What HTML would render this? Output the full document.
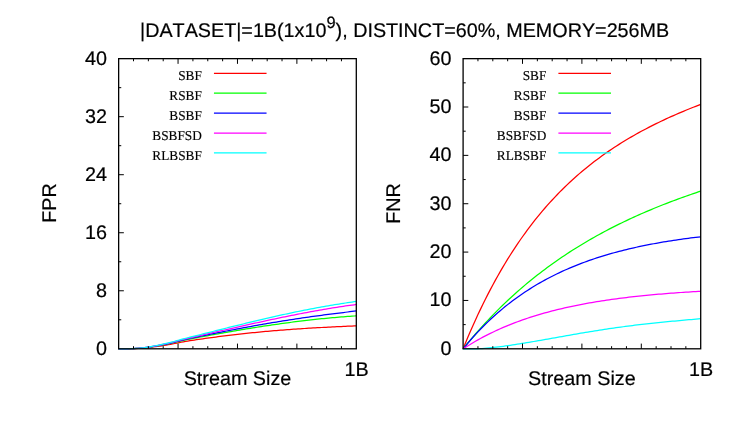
<!DOCTYPE html>
<html><head><meta charset="utf-8"><title>chart</title>
<style>
html,body{margin:0;padding:0;background:#fff;}
body{width:747px;height:432px;overflow:hidden;}
svg{display:block;will-change:transform;}
.s{text-rendering:geometricPrecision;font-kerning:none;font-family:"Liberation Sans",sans-serif;font-size:19.75px;fill:#000;stroke:#000;stroke-width:.2px;}
.t{text-rendering:geometricPrecision;font-kerning:none;font-family:"Liberation Serif",serif;font-size:13.5px;fill:#000;stroke:#000;stroke-width:.15px;}
</style></head><body>
<svg width="747" height="432" viewBox="0 0 747 432">
<rect width="747" height="432" fill="#fff"/>
<text class="s" x="140.0" y="37.0">|DATASET|=1B(1x10<tspan dy="-8.7" font-size="16.4">9</tspan><tspan dy="8.7">), DISTINCT=60%, MEMORY=256MB</tspan></text>
<path d="M118.65,348.8 L120.81,348.8 L122.97,348.8 L125.13,348.8 L127.29,348.79 L129.45,348.76 L131.61,348.7 L133.77,348.64 L135.93,348.55 L138.09,348.44 L140.25,348.31 L142.42,348.16 L144.58,347.98 L146.74,347.77 L148.9,347.54 L151.06,347.28 L153.22,347 L155.38,346.72 L157.54,346.42 L159.7,346.12 L161.86,345.8 L164.02,345.46 L166.18,345.11 L168.34,344.74 L170.5,344.35 L172.66,343.94 L174.82,343.5 L176.98,343.04 L179.14,342.59 L181.3,342.15 L183.46,341.76 L185.62,341.4 L187.78,341.05 L189.94,340.72 L192.11,340.39 L194.27,340.07 L196.43,339.74 L198.59,339.42 L200.75,339.1 L202.91,338.78 L205.07,338.47 L207.23,338.17 L209.39,337.87 L211.55,337.58 L213.71,337.29 L215.87,337.01 L218.03,336.73 L220.19,336.45 L222.35,336.18 L224.51,335.91 L226.67,335.64 L228.83,335.38 L230.99,335.12 L233.15,334.87 L235.31,334.61 L237.48,334.37 L239.64,334.12 L241.8,333.88 L243.96,333.64 L246.12,333.41 L248.28,333.18 L250.44,332.95 L252.6,332.73 L254.76,332.51 L256.92,332.3 L259.08,332.09 L261.24,331.88 L263.4,331.67 L265.56,331.48 L267.72,331.28 L269.88,331.09 L272.04,330.9 L274.2,330.71 L276.36,330.53 L278.52,330.36 L280.68,330.18 L282.84,330.01 L285,329.85 L287.17,329.68 L289.33,329.52 L291.49,329.37 L293.65,329.22 L295.81,329.07 L297.97,328.92 L300.13,328.78 L302.29,328.64 L304.45,328.5 L306.61,328.37 L308.77,328.24 L310.93,328.11 L313.09,327.98 L315.25,327.86 L317.41,327.74 L319.57,327.62 L321.73,327.5 L323.89,327.38 L326.05,327.27 L328.21,327.16 L330.37,327.05 L332.54,326.94 L334.7,326.84 L336.86,326.73 L339.02,326.63 L341.18,326.52 L343.34,326.42 L345.5,326.31 L347.66,326.21 L349.82,326.11 L351.98,326.01 L354.14,325.9 L356.3,325.8" fill="none" stroke="#ff0000" stroke-width="1.25" stroke-linejoin="round"/>
<path d="M118.65,348.8 L120.81,348.8 L122.97,348.8 L125.13,348.8 L127.29,348.79 L129.45,348.74 L131.61,348.68 L133.77,348.6 L135.93,348.49 L138.09,348.35 L140.25,348.19 L142.42,348.01 L144.58,347.79 L146.74,347.53 L148.9,347.25 L151.06,346.94 L153.22,346.6 L155.38,346.25 L157.54,345.9 L159.7,345.53 L161.86,345.14 L164.02,344.73 L166.18,344.31 L168.34,343.87 L170.5,343.41 L172.66,342.93 L174.82,342.41 L176.98,341.87 L179.14,341.34 L181.3,340.82 L183.46,340.35 L185.62,339.9 L187.78,339.47 L189.94,339.06 L192.11,338.65 L194.27,338.23 L196.43,337.82 L198.59,337.4 L200.75,336.99 L202.91,336.59 L205.07,336.18 L207.23,335.78 L209.39,335.38 L211.55,334.99 L213.71,334.6 L215.87,334.21 L218.03,333.82 L220.19,333.44 L222.35,333.06 L224.51,332.68 L226.67,332.3 L228.83,331.92 L230.99,331.55 L233.15,331.18 L235.31,330.81 L237.48,330.44 L239.64,330.07 L241.8,329.71 L243.96,329.35 L246.12,328.99 L248.28,328.64 L250.44,328.29 L252.6,327.94 L254.76,327.59 L256.92,327.25 L259.08,326.91 L261.24,326.58 L263.4,326.24 L265.56,325.91 L267.72,325.59 L269.88,325.27 L272.04,324.95 L274.2,324.63 L276.36,324.32 L278.52,324.01 L280.68,323.71 L282.84,323.41 L285,323.11 L287.17,322.82 L289.33,322.54 L291.49,322.25 L293.65,321.97 L295.81,321.7 L297.97,321.43 L300.13,321.16 L302.29,320.9 L304.45,320.64 L306.61,320.39 L308.77,320.14 L310.93,319.9 L313.09,319.66 L315.25,319.42 L317.41,319.19 L319.57,318.96 L321.73,318.74 L323.89,318.53 L326.05,318.32 L328.21,318.11 L330.37,317.9 L332.54,317.71 L334.7,317.52 L336.86,317.33 L339.02,317.14 L341.18,316.96 L343.34,316.79 L345.5,316.62 L347.66,316.46 L349.82,316.3 L351.98,316.15 L354.14,316 L356.3,315.85" fill="none" stroke="#00ff00" stroke-width="1.25" stroke-linejoin="round"/>
<path d="M118.65,348.8 L120.81,348.8 L122.97,348.8 L125.13,348.8 L127.29,348.79 L129.45,348.74 L131.61,348.67 L133.77,348.59 L135.93,348.47 L138.09,348.32 L140.25,348.15 L142.42,347.96 L144.58,347.73 L146.74,347.45 L148.9,347.15 L151.06,346.81 L153.22,346.46 L155.38,346.09 L157.54,345.71 L159.7,345.31 L161.86,344.9 L164.02,344.47 L166.18,344.03 L168.34,343.56 L170.5,343.07 L172.66,342.56 L174.82,342.02 L176.98,341.45 L179.14,340.89 L181.3,340.35 L183.46,339.84 L185.62,339.36 L187.78,338.89 L189.94,338.44 L192.11,337.99 L194.27,337.54 L196.43,337.09 L198.59,336.64 L200.75,336.19 L202.91,335.74 L205.07,335.29 L207.23,334.85 L209.39,334.42 L211.55,333.98 L213.71,333.55 L215.87,333.12 L218.03,332.69 L220.19,332.27 L222.35,331.84 L224.51,331.42 L226.67,331 L228.83,330.58 L230.99,330.16 L233.15,329.75 L235.31,329.34 L237.48,328.93 L239.64,328.52 L241.8,328.12 L243.96,327.71 L246.12,327.31 L248.28,326.91 L250.44,326.52 L252.6,326.13 L254.76,325.74 L256.92,325.35 L259.08,324.97 L261.24,324.59 L263.4,324.21 L265.56,323.84 L267.72,323.47 L269.88,323.1 L272.04,322.73 L274.2,322.37 L276.36,322.01 L278.52,321.66 L280.68,321.31 L282.84,320.96 L285,320.61 L287.17,320.27 L289.33,319.93 L291.49,319.6 L293.65,319.27 L295.81,318.94 L297.97,318.62 L300.13,318.29 L302.29,317.98 L304.45,317.66 L306.61,317.35 L308.77,317.04 L310.93,316.74 L313.09,316.44 L315.25,316.14 L317.41,315.84 L319.57,315.55 L321.73,315.26 L323.89,314.97 L326.05,314.69 L328.21,314.41 L330.37,314.13 L332.54,313.86 L334.7,313.58 L336.86,313.31 L339.02,313.05 L341.18,312.78 L343.34,312.52 L345.5,312.25 L347.66,312 L349.82,311.74 L351.98,311.48 L354.14,311.23 L356.3,310.97" fill="none" stroke="#0000ff" stroke-width="1.25" stroke-linejoin="round"/>
<path d="M118.65,348.8 L120.81,348.8 L122.97,348.8 L125.13,348.8 L127.29,348.79 L129.45,348.74 L131.61,348.66 L133.77,348.57 L135.93,348.45 L138.09,348.29 L140.25,348.11 L142.42,347.91 L144.58,347.66 L146.74,347.37 L148.9,347.05 L151.06,346.7 L153.22,346.32 L155.38,345.93 L157.54,345.53 L159.7,345.11 L161.86,344.68 L164.02,344.23 L166.18,343.76 L168.34,343.27 L170.5,342.76 L172.66,342.22 L174.82,341.65 L176.98,341.07 L179.14,340.48 L181.3,339.9 L183.46,339.36 L185.62,338.85 L187.78,338.35 L189.94,337.86 L192.11,337.37 L194.27,336.88 L196.43,336.38 L198.59,335.89 L200.75,335.39 L202.91,334.9 L205.07,334.4 L207.23,333.91 L209.39,333.42 L211.55,332.93 L213.71,332.44 L215.87,331.95 L218.03,331.47 L220.19,330.98 L222.35,330.49 L224.51,330 L226.67,329.52 L228.83,329.03 L230.99,328.54 L233.15,328.05 L235.31,327.57 L237.48,327.08 L239.64,326.6 L241.8,326.11 L243.96,325.63 L246.12,325.15 L248.28,324.67 L250.44,324.19 L252.6,323.71 L254.76,323.23 L256.92,322.76 L259.08,322.28 L261.24,321.81 L263.4,321.34 L265.56,320.87 L267.72,320.41 L269.88,319.94 L272.04,319.48 L274.2,319.02 L276.36,318.57 L278.52,318.12 L280.68,317.67 L282.84,317.22 L285,316.77 L287.17,316.33 L289.33,315.9 L291.49,315.46 L293.65,315.03 L295.81,314.6 L297.97,314.18 L300.13,313.76 L302.29,313.35 L304.45,312.93 L306.61,312.53 L308.77,312.12 L310.93,311.72 L313.09,311.33 L315.25,310.94 L317.41,310.55 L319.57,310.17 L321.73,309.79 L323.89,309.42 L326.05,309.05 L328.21,308.69 L330.37,308.33 L332.54,307.98 L334.7,307.63 L336.86,307.29 L339.02,306.95 L341.18,306.62 L343.34,306.3 L345.5,305.98 L347.66,305.66 L349.82,305.36 L351.98,305.06 L354.14,304.76 L356.3,304.46" fill="none" stroke="#ff00ff" stroke-width="1.25" stroke-linejoin="round"/>
<path d="M118.65,348.8 L120.81,348.8 L122.97,348.8 L125.13,348.8 L127.29,348.79 L129.45,348.73 L131.61,348.65 L133.77,348.56 L135.93,348.43 L138.09,348.26 L140.25,348.07 L142.42,347.85 L144.58,347.59 L146.74,347.28 L148.9,346.94 L151.06,346.57 L153.22,346.17 L155.38,345.76 L157.54,345.34 L159.7,344.9 L161.86,344.44 L164.02,343.96 L166.18,343.47 L168.34,342.95 L170.5,342.41 L172.66,341.85 L174.82,341.25 L176.98,340.64 L179.14,340.02 L181.3,339.42 L183.46,338.84 L185.62,338.28 L187.78,337.74 L189.94,337.2 L192.11,336.66 L194.27,336.12 L196.43,335.58 L198.59,335.03 L200.75,334.49 L202.91,333.94 L205.07,333.4 L207.23,332.86 L209.39,332.32 L211.55,331.78 L213.71,331.24 L215.87,330.7 L218.03,330.16 L220.19,329.62 L222.35,329.09 L224.51,328.55 L226.67,328.01 L228.83,327.48 L230.99,326.94 L233.15,326.41 L235.31,325.88 L237.48,325.34 L239.64,324.81 L241.8,324.28 L243.96,323.76 L246.12,323.23 L248.28,322.71 L250.44,322.19 L252.6,321.67 L254.76,321.15 L256.92,320.64 L259.08,320.13 L261.24,319.62 L263.4,319.11 L265.56,318.61 L267.72,318.11 L269.88,317.61 L272.04,317.12 L274.2,316.63 L276.36,316.14 L278.52,315.66 L280.68,315.18 L282.84,314.71 L285,314.24 L287.17,313.77 L289.33,313.31 L291.49,312.86 L293.65,312.4 L295.81,311.95 L297.97,311.51 L300.13,311.07 L302.29,310.64 L304.45,310.21 L306.61,309.78 L308.77,309.36 L310.93,308.95 L313.09,308.54 L315.25,308.13 L317.41,307.73 L319.57,307.33 L321.73,306.94 L323.89,306.56 L326.05,306.18 L328.21,305.8 L330.37,305.43 L332.54,305.07 L334.7,304.71 L336.86,304.36 L339.02,304.01 L341.18,303.67 L343.34,303.33 L345.5,303 L347.66,302.67 L349.82,302.36 L351.98,302.04 L354.14,301.73 L356.3,301.41" fill="none" stroke="#00ffff" stroke-width="1.25" stroke-linejoin="round"/>
<path d="M133.5,58.65 v2.6 M133.5,348.8 v-2.6 M148.36,58.65 v2.6 M148.36,348.8 v-2.6 M163.21,58.65 v2.6 M163.21,348.8 v-2.6 M178.06,58.65 v5.2 M178.06,348.8 v-5.2 M192.92,58.65 v2.6 M192.92,348.8 v-2.6 M207.77,58.65 v2.6 M207.77,348.8 v-2.6 M222.62,58.65 v2.6 M222.62,348.8 v-2.6 M237.48,58.65 v5.2 M237.48,348.8 v-5.2 M252.33,58.65 v2.6 M252.33,348.8 v-2.6 M267.18,58.65 v2.6 M267.18,348.8 v-2.6 M282.03,58.65 v2.6 M282.03,348.8 v-2.6 M296.89,58.65 v5.2 M296.89,348.8 v-5.2 M311.74,58.65 v2.6 M311.74,348.8 v-2.6 M326.59,58.65 v2.6 M326.59,348.8 v-2.6 M341.45,58.65 v2.6 M341.45,348.8 v-2.6 M118.65,319.79 h2.6 M118.65,290.77 h5.2 M118.65,261.75 h2.6 M118.65,232.74 h5.2 M118.65,203.72 h2.6 M118.65,174.71 h5.2 M118.65,145.69 h2.6 M118.65,116.68 h5.2 M118.65,87.66 h2.6" fill="none" stroke="#000" stroke-width="1.0"/>
<rect x="118.65" y="58.65" width="237.65" height="290.15" fill="none" stroke="#000" stroke-width="1.3"/>
<text class="s" text-anchor="end" x="106.9" y="354.85">0</text>
<text class="s" text-anchor="end" x="106.9" y="296.82">8</text>
<text class="s" text-anchor="end" x="106.9" y="238.79">16</text>
<text class="s" text-anchor="end" x="106.9" y="180.76">24</text>
<text class="s" text-anchor="end" x="106.9" y="122.73">32</text>
<text class="s" text-anchor="end" x="106.9" y="64.7">40</text>
<text class="s" text-anchor="middle" transform="translate(55.9,203.1) rotate(-90)">FPR</text>
<text class="s" text-anchor="middle" x="237.48" y="385.4">Stream Size</text>
<text class="s" text-anchor="middle" x="356.7" y="375.8">1B</text>
<text class="t" text-anchor="end" transform="translate(201.85,80.15) scale(0.985,1)">SBF</text>
<path d="M213.95,73.3 h52.6" stroke="#ff0000" stroke-width="1.25" fill="none"/>
<text class="t" text-anchor="end" transform="translate(201.85,100.05) scale(0.985,1)">RSBF</text>
<path d="M213.95,93.2 h52.6" stroke="#00ff00" stroke-width="1.25" fill="none"/>
<text class="t" text-anchor="end" transform="translate(201.85,119.95) scale(0.985,1)">BSBF</text>
<path d="M213.95,113.1 h52.6" stroke="#0000ff" stroke-width="1.25" fill="none"/>
<text class="t" text-anchor="end" transform="translate(201.85,139.85) scale(0.985,1)">BSBFSD</text>
<path d="M213.95,133 h52.6" stroke="#ff00ff" stroke-width="1.25" fill="none"/>
<text class="t" text-anchor="end" transform="translate(201.85,159.75) scale(0.985,1)">RLBSBF</text>
<path d="M213.95,152.9 h52.6" stroke="#00ffff" stroke-width="1.25" fill="none"/>
<path d="M463.1,348.8 L465.58,342.75 L468.05,336.85 L470.53,331.08 L473,325.46 L475.48,319.96 L477.95,314.6 L480.43,309.36 L482.9,304.24 L485.38,299.25 L487.85,294.37 L490.33,289.6 L492.8,284.95 L495.28,280.4 L497.75,275.96 L500.23,271.61 L502.7,267.37 L505.18,263.23 L507.65,259.18 L510.12,255.23 L512.6,251.36 L515.08,247.58 L517.55,243.88 L520.02,240.27 L522.5,236.74 L524.98,233.29 L527.45,229.92 L529.93,226.61 L532.4,223.39 L534.88,220.23 L537.35,217.14 L539.83,214.12 L542.3,211.17 L544.78,208.28 L547.25,205.45 L549.73,202.68 L552.2,199.97 L554.68,197.32 L557.15,194.72 L559.62,192.18 L562.1,189.69 L564.58,187.25 L567.05,184.87 L569.53,182.53 L572,180.24 L574.48,178 L576.95,175.8 L579.43,173.65 L581.9,171.54 L584.38,169.47 L586.85,167.44 L589.33,165.46 L591.8,163.51 L594.28,161.6 L596.75,159.72 L599.23,157.89 L601.7,156.08 L604.18,154.31 L606.65,152.58 L609.12,150.87 L611.6,149.2 L614.08,147.56 L616.55,145.95 L619.03,144.37 L621.5,142.81 L623.98,141.29 L626.45,139.79 L628.93,138.31 L631.4,136.86 L633.88,135.44 L636.35,134.04 L638.83,132.67 L641.3,131.31 L643.78,129.98 L646.25,128.68 L648.73,127.39 L651.2,126.12 L653.68,124.88 L656.15,123.65 L658.62,122.44 L661.1,121.25 L663.58,120.08 L666.05,118.93 L668.53,117.79 L671,116.67 L673.48,115.57 L675.95,114.48 L678.43,113.41 L680.9,112.36 L683.38,111.32 L685.85,110.29 L688.33,109.27 L690.8,108.27 L693.28,107.29 L695.75,106.32 L698.23,105.35 L700.7,104.41" fill="none" stroke="#ff0000" stroke-width="1.25" stroke-linejoin="round"/>
<path d="M463.1,348.8 L465.58,345.74 L468.05,342.74 L470.53,339.78 L473,336.86 L475.48,333.99 L477.95,331.17 L480.43,328.39 L482.9,325.66 L485.38,322.97 L487.85,320.32 L490.33,317.71 L492.8,315.14 L495.28,312.61 L497.75,310.12 L500.23,307.67 L502.7,305.25 L505.18,302.88 L507.65,300.54 L510.12,298.23 L512.6,295.96 L515.08,293.73 L517.55,291.53 L520.02,289.36 L522.5,287.22 L524.98,285.12 L527.45,283.05 L529.93,281.01 L532.4,279 L534.88,277.02 L537.35,275.07 L539.83,273.14 L542.3,271.25 L544.78,269.38 L547.25,267.54 L549.73,265.73 L552.2,263.95 L554.68,262.19 L557.15,260.45 L559.62,258.74 L562.1,257.06 L564.58,255.4 L567.05,253.76 L569.53,252.14 L572,250.55 L574.48,248.98 L576.95,247.44 L579.43,245.91 L581.9,244.41 L584.38,242.93 L586.85,241.46 L589.33,240.02 L591.8,238.6 L594.28,237.19 L596.75,235.81 L599.23,234.44 L601.7,233.1 L604.18,231.77 L606.65,230.46 L609.12,229.16 L611.6,227.89 L614.08,226.63 L616.55,225.38 L619.03,224.16 L621.5,222.94 L623.98,221.75 L626.45,220.57 L628.93,219.4 L631.4,218.25 L633.88,217.12 L636.35,216 L638.83,214.89 L641.3,213.8 L643.78,212.72 L646.25,211.65 L648.73,210.6 L651.2,209.56 L653.68,208.53 L656.15,207.51 L658.62,206.51 L661.1,205.52 L663.58,204.54 L666.05,203.57 L668.53,202.62 L671,201.67 L673.48,200.74 L675.95,199.81 L678.43,198.9 L680.9,198 L683.38,197.1 L685.85,196.22 L688.33,195.35 L690.8,194.49 L693.28,193.63 L695.75,192.79 L698.23,191.95 L700.7,191.13" fill="none" stroke="#00ff00" stroke-width="1.25" stroke-linejoin="round"/>
<path d="M463.1,348.8 L465.58,345.8 L468.05,342.88 L470.53,340.02 L473,337.23 L475.48,334.52 L477.95,331.86 L480.43,329.27 L482.9,326.75 L485.38,324.28 L487.85,321.88 L490.33,319.53 L492.8,317.24 L495.28,315.01 L497.75,312.83 L500.23,310.7 L502.7,308.63 L505.18,306.6 L507.65,304.62 L510.12,302.69 L512.6,300.81 L515.08,298.98 L517.55,297.18 L520.02,295.44 L522.5,293.73 L524.98,292.07 L527.45,290.44 L529.93,288.86 L532.4,287.31 L534.88,285.8 L537.35,284.33 L539.83,282.89 L542.3,281.49 L544.78,280.12 L547.25,278.78 L549.73,277.48 L552.2,276.21 L554.68,274.97 L557.15,273.76 L559.62,272.58 L562.1,271.43 L564.58,270.3 L567.05,269.2 L569.53,268.13 L572,267.09 L574.48,266.07 L576.95,265.08 L579.43,264.1 L581.9,263.16 L584.38,262.23 L586.85,261.33 L589.33,260.45 L591.8,259.59 L594.28,258.75 L596.75,257.94 L599.23,257.14 L601.7,256.36 L604.18,255.6 L606.65,254.86 L609.12,254.14 L611.6,253.43 L614.08,252.74 L616.55,252.07 L619.03,251.42 L621.5,250.78 L623.98,250.15 L626.45,249.54 L628.93,248.95 L631.4,248.37 L633.88,247.8 L636.35,247.25 L638.83,246.71 L641.3,246.18 L643.78,245.67 L646.25,245.17 L648.73,244.68 L651.2,244.21 L653.68,243.74 L656.15,243.29 L658.62,242.84 L661.1,242.41 L663.58,241.99 L666.05,241.58 L668.53,241.18 L671,240.79 L673.48,240.4 L675.95,240.03 L678.43,239.67 L680.9,239.31 L683.38,238.96 L685.85,238.63 L688.33,238.3 L690.8,237.97 L693.28,237.66 L695.75,237.35 L698.23,237.05 L700.7,236.76" fill="none" stroke="#0000ff" stroke-width="1.25" stroke-linejoin="round"/>
<path d="M463.1,348.8 L465.58,347.21 L468.05,345.67 L470.53,344.16 L473,342.69 L475.48,341.26 L477.95,339.86 L480.43,338.5 L482.9,337.17 L485.38,335.88 L487.85,334.62 L490.33,333.39 L492.8,332.19 L495.28,331.02 L497.75,329.88 L500.23,328.77 L502.7,327.69 L505.18,326.64 L507.65,325.61 L510.12,324.61 L512.6,323.63 L515.08,322.68 L517.55,321.75 L520.02,320.84 L522.5,319.96 L524.98,319.1 L527.45,318.26 L529.93,317.45 L532.4,316.65 L534.88,315.87 L537.35,315.12 L539.83,314.38 L542.3,313.66 L544.78,312.96 L547.25,312.28 L549.73,311.61 L552.2,310.96 L554.68,310.33 L557.15,309.71 L559.62,309.11 L562.1,308.52 L564.58,307.95 L567.05,307.39 L569.53,306.85 L572,306.32 L574.48,305.8 L576.95,305.3 L579.43,304.81 L581.9,304.33 L584.38,303.87 L586.85,303.41 L589.33,302.97 L591.8,302.54 L594.28,302.12 L596.75,301.71 L599.23,301.31 L601.7,300.92 L604.18,300.54 L606.65,300.17 L609.12,299.81 L611.6,299.45 L614.08,299.11 L616.55,298.78 L619.03,298.45 L621.5,298.13 L623.98,297.82 L626.45,297.52 L628.93,297.23 L631.4,296.94 L633.88,296.66 L636.35,296.39 L638.83,296.12 L641.3,295.86 L643.78,295.61 L646.25,295.36 L648.73,295.12 L651.2,294.89 L653.68,294.66 L656.15,294.44 L658.62,294.22 L661.1,294.01 L663.58,293.8 L666.05,293.6 L668.53,293.41 L671,293.22 L673.48,293.03 L675.95,292.85 L678.43,292.67 L680.9,292.5 L683.38,292.33 L685.85,292.17 L688.33,292.01 L690.8,291.85 L693.28,291.7 L695.75,291.56 L698.23,291.41 L700.7,291.27" fill="none" stroke="#ff00ff" stroke-width="1.25" stroke-linejoin="round"/>
<path d="M463.1,348.8 L477.33,348.8 L479.68,348.68 L482.03,348.51 L484.39,348.32 L486.74,348.11 L489.09,347.89 L491.44,347.65 L493.79,347.4 L496.14,347.13 L498.49,346.85 L500.84,346.56 L503.2,346.26 L505.55,345.94 L507.9,345.61 L510.25,345.28 L512.6,344.93 L514.95,344.58 L517.3,344.22 L519.65,343.85 L522,343.47 L524.36,343.09 L526.71,342.7 L529.06,342.31 L531.41,341.91 L533.76,341.5 L536.11,341.1 L538.46,340.69 L540.82,340.27 L543.17,339.86 L545.52,339.44 L547.87,339.02 L550.22,338.61 L552.57,338.18 L554.92,337.76 L557.27,337.34 L559.62,336.92 L561.98,336.51 L564.33,336.09 L566.68,335.67 L569.03,335.26 L571.38,334.84 L573.73,334.43 L576.08,334.03 L578.44,333.62 L580.79,333.22 L583.14,332.82 L585.49,332.43 L587.84,332.04 L590.19,331.65 L592.54,331.27 L594.89,330.89 L597.25,330.52 L599.6,330.15 L601.95,329.79 L604.3,329.43 L606.65,329.07 L609,328.73 L611.35,328.38 L613.7,328.04 L616.06,327.71 L618.41,327.38 L620.76,327.06 L623.11,326.75 L625.46,326.43 L627.81,326.13 L630.16,325.83 L632.51,325.53 L634.87,325.24 L637.22,324.96 L639.57,324.68 L641.92,324.41 L644.27,324.14 L646.62,323.87 L648.97,323.61 L651.32,323.36 L653.68,323.11 L656.03,322.86 L658.38,322.62 L660.73,322.38 L663.08,322.14 L665.43,321.91 L667.78,321.68 L670.13,321.46 L672.49,321.24 L674.84,321.02 L677.19,320.8 L679.54,320.58 L681.89,320.37 L684.24,320.15 L686.59,319.94 L688.94,319.73 L691.3,319.52 L693.65,319.31 L696,319.09 L698.35,318.88 L700.7,318.67" fill="none" stroke="#00ffff" stroke-width="1.25" stroke-linejoin="round"/>
<path d="M477.95,58.65 v2.6 M477.95,348.8 v-2.6 M492.8,58.65 v2.6 M492.8,348.8 v-2.6 M507.65,58.65 v2.6 M507.65,348.8 v-2.6 M522.5,58.65 v5.2 M522.5,348.8 v-5.2 M537.35,58.65 v2.6 M537.35,348.8 v-2.6 M552.2,58.65 v2.6 M552.2,348.8 v-2.6 M567.05,58.65 v2.6 M567.05,348.8 v-2.6 M581.9,58.65 v5.2 M581.9,348.8 v-5.2 M596.75,58.65 v2.6 M596.75,348.8 v-2.6 M611.6,58.65 v2.6 M611.6,348.8 v-2.6 M626.45,58.65 v2.6 M626.45,348.8 v-2.6 M641.3,58.65 v5.2 M641.3,348.8 v-5.2 M656.15,58.65 v2.6 M656.15,348.8 v-2.6 M671,58.65 v2.6 M671,348.8 v-2.6 M685.85,58.65 v2.6 M685.85,348.8 v-2.6 M463.1,324.62 h2.6 M463.1,300.44 h5.2 M463.1,276.26 h2.6 M463.1,252.08 h5.2 M463.1,227.9 h2.6 M463.1,203.72 h5.2 M463.1,179.55 h2.6 M463.1,155.37 h5.2 M463.1,131.19 h2.6 M463.1,107.01 h5.2 M463.1,82.83 h2.6" fill="none" stroke="#000" stroke-width="1.0"/>
<rect x="463.1" y="58.65" width="237.6" height="290.15" fill="none" stroke="#000" stroke-width="1.3"/>
<text class="s" text-anchor="end" x="451.4" y="354.85">0</text>
<text class="s" text-anchor="end" x="451.4" y="306.49">10</text>
<text class="s" text-anchor="end" x="451.4" y="258.13">20</text>
<text class="s" text-anchor="end" x="451.4" y="209.78">30</text>
<text class="s" text-anchor="end" x="451.4" y="161.42">40</text>
<text class="s" text-anchor="end" x="451.4" y="113.06">50</text>
<text class="s" text-anchor="end" x="451.4" y="64.7">60</text>
<text class="s" text-anchor="middle" transform="translate(400.2,203.45) rotate(-90)">FNR</text>
<text class="s" text-anchor="middle" x="581.9" y="385.4">Stream Size</text>
<text class="s" text-anchor="middle" x="701.1" y="375.8">1B</text>
<text class="t" text-anchor="end" transform="translate(546.3,80.15) scale(0.985,1)">SBF</text>
<path d="M558.4,73.3 h52.6" stroke="#ff0000" stroke-width="1.25" fill="none"/>
<text class="t" text-anchor="end" transform="translate(546.3,100.05) scale(0.985,1)">RSBF</text>
<path d="M558.4,93.2 h52.6" stroke="#00ff00" stroke-width="1.25" fill="none"/>
<text class="t" text-anchor="end" transform="translate(546.3,119.95) scale(0.985,1)">BSBF</text>
<path d="M558.4,113.1 h52.6" stroke="#0000ff" stroke-width="1.25" fill="none"/>
<text class="t" text-anchor="end" transform="translate(546.3,139.85) scale(0.985,1)">BSBFSD</text>
<path d="M558.4,133 h52.6" stroke="#ff00ff" stroke-width="1.25" fill="none"/>
<text class="t" text-anchor="end" transform="translate(546.3,159.75) scale(0.985,1)">RLBSBF</text>
<path d="M558.4,152.9 h52.6" stroke="#00ffff" stroke-width="1.25" fill="none"/>
</svg>
</body></html>
